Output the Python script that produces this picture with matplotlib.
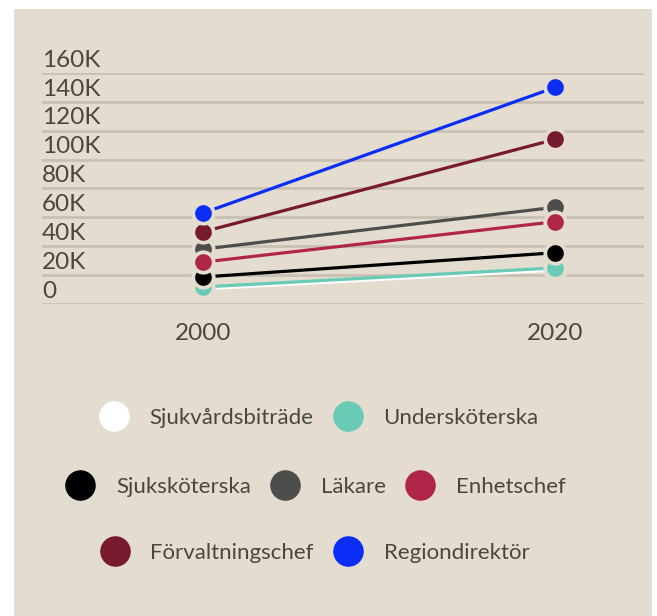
import matplotlib
matplotlib.use('Agg')
import matplotlib.pyplot as plt
import matplotlib.transforms as mtransforms
from matplotlib.lines import Line2D
from matplotlib.patches import Rectangle

plt.rcParams['font.family'] = ['Lato', 'DejaVu Sans']

years = [2000, 2020]
names = ['Sjukvårdsbiträde', 'Undersköterska', 'Sjuksköterska', 'Läkare',
         'Enhetschef', 'Förvaltningschef', 'Regiondirektör']
colors = ['#ffffff', '#68cbb6', '#000000', '#4d4d4b', '#b0264b', '#771a30', '#0a2ef5']
# values in kr
v2000 = [10500, 11800, 18700, 38000, 29000, 50000, 63000]
v2020 = [23500, 25000, 35500, 67000, 57000, 114000, 150000]
yticks = [0, 20000, 40000, 60000, 80000, 100000, 120000, 140000, 160000]
ytick_labels = ['0', '20K', '40K', '60K', '80K', '100K', '120K', '140K', '160K']
legend_rows = [[0, 1], [2, 3, 4], [5, 6]]

bg = '#e4dccf'
txt = '#4a4640'
grid = '#c9c0b2'
fs = 16

fig = plt.figure(figsize=(6.57, 6.16), dpi=100)
fig.patch.set_facecolor('white')
fig.patches.append(Rectangle((14 / 657, 0), 638 / 657, 607 / 616, transform=fig.transFigure,
                             facecolor=bg, edgecolor='none', zorder=-5))

ax = fig.add_axes([42 / 657, 1 - 304 / 616, 602 / 657, 231 / 616])
ax.set_facecolor('none')
for s in ax.spines.values():
    s.set_visible(False)

for i in range(len(names)):
    ax.plot(years, [v2000[i], v2020[i]], color=colors[i], lw=2.3, zorder=3 + i * 0.1,
            solid_capstyle='butt')
for i in range(len(names)):
    ax.plot(years, [v2000[i], v2020[i]], 'o', color=colors[i], ms=14.7, mec=bg, mew=2.7,
            zorder=4 + i * 0.1, clip_on=False)

ax.set_xlim(1990.85, 2025.06)
ax.set_ylim(0, 160000)
ax.set_yticks(yticks)
ax.set_yticklabels(ytick_labels)
ax.set_xticks(years)
ax.set_xticklabels([str(y) for y in years])
ax.grid(axis='y', color=grid, lw=2)
ax.tick_params(axis='y', length=0, pad=0, labelsize=17.5, labelcolor=txt)
ax.tick_params(axis='x', length=0, pad=14, labelsize=17.5, labelcolor=txt)
up = mtransforms.ScaledTranslation(0, 4.5 / 72, fig.dpi_scale_trans)
for lab in ax.get_yticklabels():
    lab.set_horizontalalignment('left')
    lab.set_verticalalignment('baseline')
    lab.set_transform(lab.get_transform() + up)

row_y = [1 - 418 / 616, 1 - 487 / 616, 1 - 553 / 616]
row_x = [0.488, 0.483, 0.482]
for row, x, y in zip(legend_rows, row_x, row_y):
    handles = [Line2D([], [], marker='o', ls='none', ms=22, color=colors[i], mec='none')
               for i in row]
    fig.legend(handles, [names[i] for i in row], loc='center', bbox_to_anchor=(x, y),
               ncol=len(row), frameon=False, fontsize=fs, labelcolor=txt,
               handlelength=1.0, handletextpad=1.1, columnspacing=1.05)

fig.savefig('out.png', dpi=100, facecolor='white')
